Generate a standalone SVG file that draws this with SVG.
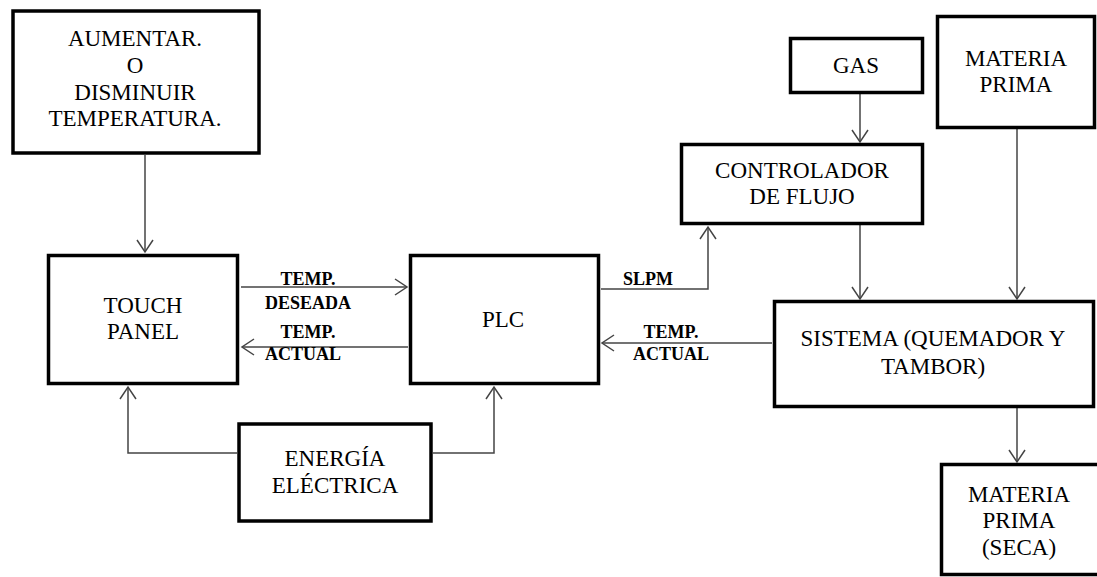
<svg xmlns="http://www.w3.org/2000/svg" width="1097" height="577" viewBox="0 0 1097 577">
<style>
.box{fill:#fff;stroke:#000;stroke-width:3.5}
.t{font-family:"Liberation Serif","Times New Roman","DejaVu Serif",serif;font-size:23px;font-weight:normal;font-style:normal;fill:#000;text-anchor:middle}
.lb{font-family:"Liberation Serif","Times New Roman","DejaVu Serif",serif;font-size:18px;font-weight:bold;fill:#000;text-anchor:middle}
.c{fill:none;stroke:#444;stroke-width:1.5}
</style>
<defs>
<marker id="ah" markerUnits="userSpaceOnUse" markerWidth="16" markerHeight="20" viewBox="0 0 16 20" refX="14" refY="10" orient="auto">
<path d="M2,2 L14,10 L2,18" fill="none" stroke="#444" stroke-width="1.5"/>
</marker>
</defs>
<rect width="1097" height="577" fill="#fff"/>
<g id="connectors">
<path class="c" d="M145,155 V252" marker-end="url(#ah)"/>
<path class="c" d="M241,287 H407" marker-end="url(#ah)"/>
<path class="c" d="M408,347 H242" marker-end="url(#ah)"/>
<path class="c" d="M601,289 H708 V227" marker-end="url(#ah)"/>
<path class="c" d="M860,94 V142" marker-end="url(#ah)"/>
<path class="c" d="M860,225 V299" marker-end="url(#ah)"/>
<path class="c" d="M1017,129 V299" marker-end="url(#ah)"/>
<path class="c" d="M772,343 H602" marker-end="url(#ah)"/>
<path class="c" d="M1017,408 V462" marker-end="url(#ah)"/>
<path class="c" d="M237,453 H128 V387" marker-end="url(#ah)"/>
<path class="c" d="M433,453 H494 V387" marker-end="url(#ah)"/>
<text class="lb" x="308" y="285">TEMP.</text>
<text class="lb" x="308" y="309">DESEADA</text>
<text class="lb" x="308" y="338">TEMP.</text>
<text class="lb" x="303" y="360">ACTUAL</text>
<text class="lb" x="648" y="285">SLPM</text>
<text class="lb" x="671" y="338">TEMP.</text>
<text class="lb" x="671" y="360">ACTUAL</text>
</g>
<g id="aumentar">
<rect class="box" x="13" y="11" width="246" height="142"/>
<text class="t" x="135" y="46">AUMENTAR.</text>
<text class="t" x="135" y="73">O</text>
<text class="t" x="135" y="100">DISMINUIR</text>
<text class="t" x="135" y="126">TEMPERATURA.</text>
</g>
<g id="touch">
<rect class="box" x="48.5" y="255.5" width="189" height="128"/>
<text class="t" x="143" y="313">TOUCH</text>
<text class="t" x="143" y="339">PANEL</text>
</g>
<g id="plc">
<rect class="box" x="410.5" y="255.5" width="188" height="128"/>
<text class="t" x="503" y="327">PLC</text>
</g>
<g id="energia">
<rect class="box" x="239" y="424" width="192" height="97"/>
<text class="t" x="335" y="466">ENERGÍA</text>
<text class="t" x="335" y="493">ELÉCTRICA</text>
</g>
<g id="gas">
<rect class="box" x="790.5" y="38.5" width="132" height="54"/>
<text class="t" x="856" y="73">GAS</text>
</g>
<g id="materia">
<rect class="box" x="937.5" y="16.5" width="157" height="111"/>
<text class="t" x="1016" y="66">MATERIA</text>
<text class="t" x="1016" y="92">PRIMA</text>
</g>
<g id="controlador">
<rect class="box" x="681.5" y="144.5" width="241" height="79"/>
<text class="t" x="802" y="178">CONTROLADOR</text>
<text class="t" x="802" y="204">DE FLUJO</text>
</g>
<g id="sistema">
<rect class="box" x="774.5" y="301.5" width="319" height="105"/>
<text class="t" x="933" y="346">SISTEMA (QUEMADOR Y</text>
<text class="t" x="933" y="374">TAMBOR)</text>
</g>
<g id="seca">
<rect class="box" x="941.5" y="464.5" width="170" height="110"/>
<text class="t" x="1019" y="502">MATERIA</text>
<text class="t" x="1019" y="528">PRIMA</text>
<text class="t" x="1019" y="555">(SECA)</text>
</g>
</svg>
